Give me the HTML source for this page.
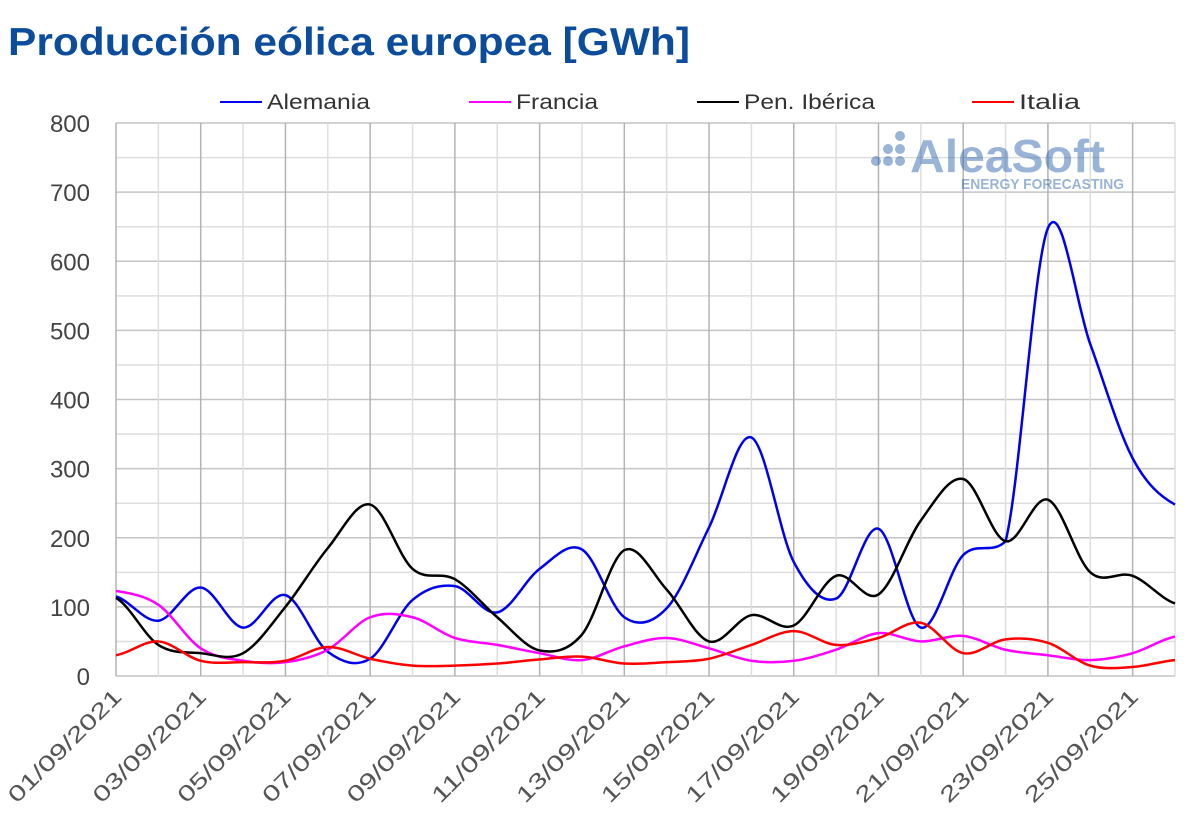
<!DOCTYPE html><html><head><meta charset="utf-8"><style>body{margin:0;background:#fff}svg text{font-family:"Liberation Sans",sans-serif}</style></head><body>
<svg id="s" width="1200" height="835" xmlns="http://www.w3.org/2000/svg">
<text x="8" y="55" font-size="39" font-weight="bold" fill="#0b4c9c" textLength="682" lengthAdjust="spacingAndGlyphs">Producción eólica europea [GWh]</text>
<g id="grid"></g>
<g opacity="0.45" fill="#1f5aa6"><circle cx="900" cy="136" r="5"/><circle cx="888" cy="149" r="5"/><circle cx="900" cy="149" r="5"/><circle cx="876" cy="161" r="5"/><circle cx="888" cy="161" r="5"/><circle cx="900" cy="161" r="5"/>
<text x="910" y="172" font-size="46" font-weight="bold" textLength="195" lengthAdjust="spacingAndGlyphs">AleaSoft</text>
<text x="961" y="189" font-size="15" font-weight="bold" textLength="163" lengthAdjust="spacingAndGlyphs">ENERGY FORECASTING</text></g>
<g id="series"></g>
<g font-size="21" fill="#333">
<line x1="220" y1="102" x2="262" y2="102" stroke="#0000ee" stroke-width="2"/><text x="267" y="109" textLength="103" lengthAdjust="spacingAndGlyphs">Alemania</text>
<line x1="469" y1="102" x2="511" y2="102" stroke="#ff00ff" stroke-width="2"/><text x="516" y="109" textLength="82" lengthAdjust="spacingAndGlyphs">Francia</text>
<line x1="697" y1="102" x2="739" y2="102" stroke="#000" stroke-width="2"/><text x="744" y="109" textLength="131" lengthAdjust="spacingAndGlyphs">Pen. Ibérica</text>
<line x1="972" y1="102" x2="1014" y2="102" stroke="#ff0000" stroke-width="2"/><text x="1019" y="109" textLength="61" lengthAdjust="spacingAndGlyphs">Italia</text>
</g>
</svg>
<script>
const NS="http://www.w3.org/2000/svg",X0=116,DX=42.36,Y0=676,SY=553/800;
const g=document.getElementById('grid'),sr=document.getElementById('series');
function el(p,t,a,txt){const e=document.createElementNS(NS,t);for(const k in a)e.setAttribute(k,a[k]);if(txt)e.textContent=txt;p.appendChild(e);return e;}
for(let v=0;v<=800;v+=50){const y=Y0-v*SY;el(g,'line',{x1:X0,x2:1175,y1:y,y2:y,stroke:v%100?'#dedede':'#c4c4c4','stroke-width':1.5});
if(v%100==0)el(g,'text',{x:90,y:y+9,'font-size':24,fill:'#444','text-anchor':'end'},''+v);}
for(let d=0;d<=25;d++){const x=X0+d*DX;el(g,'line',{x1:x,x2:x,y1:123,y2:Y0,stroke:d%2?'#dedede':'#b4b4b4','stroke-width':1.5});
if(d%2==0){const lab=String(d+1).padStart(2,'0')+'/09/2021';const tx=x+7,ty=Y0+22;el(g,'text',{x:tx,y:ty,'font-size':22,fill:'#555','text-anchor':'end',textLength:150,lengthAdjust:'spacingAndGlyphs',transform:`rotate(-45 ${tx} ${ty})`},lab);}}
const D={'#0000ee':[115,80,128,70,117,35,25,110,130,92,155,183,85,98,215,345,165,112,213,70,175,195,648,480,315,248],
'#ff00ff':[123,103,40,22,20,38,85,85,55,45,33,23,43,55,40,22,22,38,62,50,58,38,30,23,33,57],
'#000000':[113,45,33,33,100,185,248,155,140,85,37,60,182,125,50,88,73,145,118,225,285,195,255,150,145,105],
'#ff0000':[30,50,22,20,22,42,25,15,15,18,24,28,18,20,25,45,65,45,55,77,33,53,48,15,13,23]};
const cl=(v,a,b)=>Math.min(Math.max(v,Math.min(a,b)),Math.max(a,b));
for(const c of ['#0000ee','#ff00ff','#000000','#ff0000']){const p=D[c].map((v,i)=>[X0+i*DX,Y0-v*SY]);let d=`M${p[0]}`;
for(let i=0;i<p.length-1;i++){const a=p[Math.max(i-1,0)],b=p[i],e=p[i+1],f=p[Math.min(i+2,p.length-1)];
let c1=b[1]+(e[1]-a[1])/6,c2=e[1]-(f[1]-b[1])/6;
if(c=='#0000ee'&&(i==20||i==21)){c1=cl(c1,b[1],e[1]);c2=cl(c2,b[1],e[1]);}
d+=` C${b[0]+DX/3},${c1} ${e[0]-DX/3},${c2} ${e[0]},${e[1]}`;}
el(sr,'path',{d:d,fill:'none',stroke:c,'stroke-width':2.5});}
</script></body></html>
